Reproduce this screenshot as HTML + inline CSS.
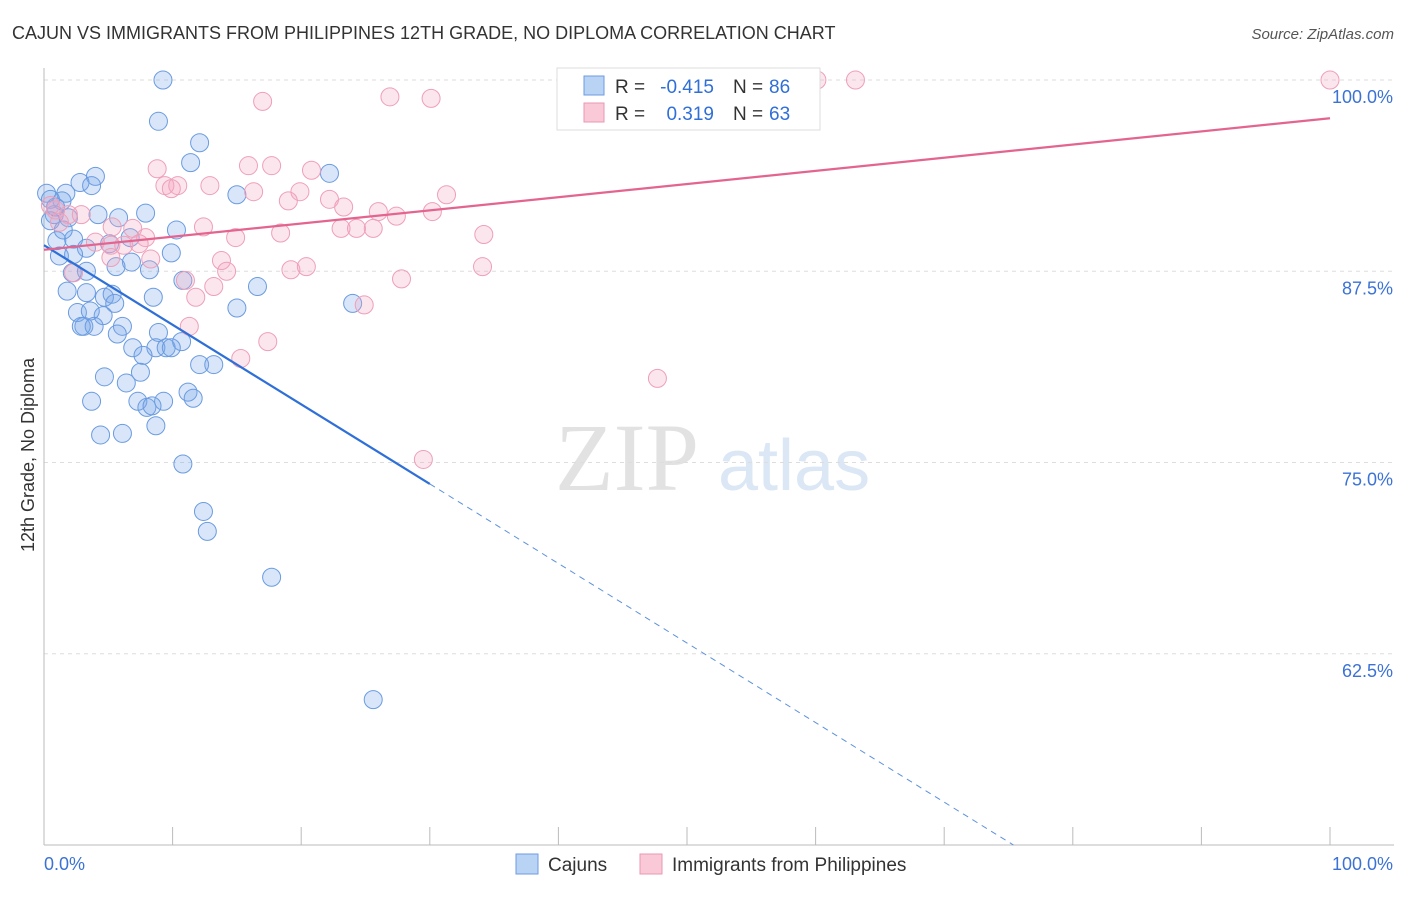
<!DOCTYPE html>
<html><head><meta charset="utf-8"><style>
body{margin:0;background:#fff;font-family:"Liberation Sans",sans-serif;}
</style></head><body>
<svg id="chart" width="1406" height="892" xmlns="http://www.w3.org/2000/svg" font-family="Liberation Sans, sans-serif">
<text x="12" y="39" font-size="18" fill="#333">CAJUN VS IMMIGRANTS FROM PHILIPPINES 12TH GRADE, NO DIPLOMA CORRELATION CHART</text>
<text x="1394" y="39" font-size="15" fill="#555" text-anchor="end" font-style="italic">Source: ZipAtlas.com</text>
<text x="555" y="490" font-size="96" fill="#e2e2e2" font-family="Liberation Serif, serif">ZIP</text>
<text x="718" y="490" font-size="72" fill="#dbe7f5">atlas</text>
<g id="grid"></g><g id="axes"></g><g id="pts"></g><g id="lines"></g>
<text transform="translate(34,455) rotate(-90)" font-size="18" fill="#333" text-anchor="middle">12th Grade, No Diploma</text>
<g>
<rect x="557" y="68" width="263" height="62" fill="#fff" stroke="#ddd"/>
<rect x="584" y="76" width="20" height="19" fill="#b9d3f5" stroke="#6d9be0"/>
<rect x="584" y="103" width="20" height="19" fill="#f9c9d8" stroke="#ea98b3"/>
<text x="615" y="93" font-size="19" fill="#333">R =</text>
<text x="714" y="93" font-size="19" fill="#2f6fd6" text-anchor="end">-0.415</text>
<text x="733" y="93" font-size="19" fill="#333">N =</text>
<text x="769" y="93" font-size="19" fill="#2f6fd6">86</text>
<text x="615" y="120" font-size="19" fill="#333">R =</text>
<text x="714" y="120" font-size="19" fill="#2f6fd6" text-anchor="end">0.319</text>
<text x="733" y="120" font-size="19" fill="#333">N =</text>
<text x="769" y="120" font-size="19" fill="#2f6fd6">63</text>
</g>
<g>
<rect x="516" y="854" width="22" height="20" fill="#b9d3f5" stroke="#6d9be0"/>
<text x="548" y="871" font-size="19" fill="#333">Cajuns</text>
<rect x="640" y="854" width="22" height="20" fill="#f9c9d8" stroke="#ea98b3"/>
<text x="672" y="871" font-size="19" fill="#333">Immigrants from Philippines</text>
</g>
</svg>
<script>
const blueX=[9.25,8.9,12.1,11.4,22.2,4.0,2.8,3.7,0.2,1.7,1.4,15.0,7.9,4.2,5.8,0.8,0.5,1.9,10.3,6.7,5.1,1.0,2.3,3.3,1.2,2.3,9.9,6.8,5.6,8.2,2.2,3.3,16.6,10.8,1.8,3.3,4.7,5.3,5.5,8.5,15.0,24.0,2.6,4.6,3.6,3.1,2.9,3.9,6.1,5.7,8.9,6.9,8.7,9.5,10.7,7.7,9.9,12.1,13.2,7.5,4.7,6.4,11.2,11.6,3.7,7.3,9.3,8.0,8.4,8.7,4.4,6.1,10.8,12.4,12.7,17.7,25.6,0.5,0.9,1.5];
const blueY=[100,97.3,95.9,94.6,93.9,93.7,93.3,93.1,92.6,92.6,92.1,92.5,91.3,91.2,91.0,91.2,90.8,91.0,90.2,89.7,89.3,89.5,89.6,89.0,88.5,88.6,88.7,88.1,87.8,87.6,87.4,87.5,86.5,86.9,86.2,86.1,85.8,86.0,85.4,85.8,85.1,85.4,84.8,84.6,84.9,83.9,83.9,83.9,83.9,83.4,83.5,82.5,82.5,82.5,82.9,82.0,82.5,81.4,81.4,80.9,80.6,80.2,79.6,79.2,79.0,79.0,79.0,78.6,78.7,77.4,76.8,76.9,74.9,71.8,70.5,67.5,59.5,92.2,91.7,90.2];
const pinkX=[100,63.1,60.1,17.0,26.9,30.1,8.8,15.9,17.7,20.8,9.4,10.4,9.9,12.9,16.3,19.9,31.3,19.0,22.2,23.3,26.0,27.4,30.2,12.4,14.9,18.4,23.1,24.3,25.6,34.2,1.9,2.9,0.9,5.3,6.9,7.9,4.0,5.2,6.2,7.4,8.3,13.8,14.2,5.2,19.2,20.4,27.8,34.1,11.0,13.2,11.8,24.9,11.3,15.3,17.4,47.7,29.5,0.5,1.2,2.3];
const pinkY=[100,100,100,98.6,98.9,98.8,94.2,94.4,94.4,94.1,93.1,93.1,92.9,93.1,92.7,92.7,92.5,92.1,92.2,91.7,91.4,91.1,91.4,90.4,89.7,90.0,90.3,90.3,90.3,89.9,91.2,91.2,91.5,90.4,90.3,89.7,89.4,89.2,89.2,89.3,88.3,88.2,87.5,88.4,87.6,87.8,87.0,87.8,86.9,86.5,85.8,85.3,83.9,81.8,82.9,80.5,75.2,91.8,90.7,87.4];
const yTicks=[100,87.5,75,62.5];
const yTickLabels=["100.0%","87.5%","75.0%","62.5%"];
const xTicks=[0,10,20,30,40,50,60,70,80,90,100];
const blueFit=[89.2,-0.52];
const pinkFit=[88.9,0.086];
const NS="http://www.w3.org/2000/svg";
const sx=v=>44+v*12.86, sy=v=>80+(100-v)*15.3;
function mk(tag,attrs,parent){const e=document.createElementNS(NS,tag);for(const k in attrs)e.setAttribute(k,attrs[k]);document.getElementById(parent).appendChild(e);return e;}
yTicks.forEach((t,i)=>{
 const l=mk('line',{x1:44,x2:1394,y1:sy(t),y2:sy(t),stroke:'#ddd','stroke-dasharray':'4,4'},'grid');
 
 
 const tx=mk('text',{x:1393,y:sy(t)+23,'font-size':18,fill:'#3b72d4','text-anchor':'end'},'grid');
 tx.textContent=yTickLabels[i];
 
 
});
const ax=mk('line',{x1:44,x2:1394,y1:845,y2:845,stroke:'#bbb'},'axes');


const ay=mk('line',{x1:44,x2:44,y1:68,y2:845,stroke:'#bbb'},'axes');


xTicks.forEach(t=>{const l=mk('line',{x1:sx(t),x2:sx(t),y1:827,y2:845,stroke:'#bbb'},'axes');
 
 });
const x0=mk('text',{x:44,y:870,'font-size':18,fill:'#3b72d4'},'axes');x0.textContent='0.0%';


const x1=mk('text',{x:1393,y:870,'font-size':18,fill:'#3b72d4','text-anchor':'end'},'axes');x1.textContent='100.0%';


blueX.forEach((v,i)=>{const c=mk('circle',{cx:sx(v),cy:sy(blueY[i]),r:9,fill:'rgba(120,165,235,0.28)',stroke:'#6a9be0','stroke-width':1},'pts');
 
 });
pinkX.forEach((v,i)=>{const c=mk('circle',{cx:sx(v),cy:sy(pinkY[i]),r:9,fill:'rgba(245,165,195,0.28)',stroke:'#ee9fb9','stroke-width':1},'pts');
 
 });
const bf=x=>blueFit[0]+blueFit[1]*x, pf=x=>pinkFit[0]+pinkFit[1]*x;
const bl=mk('line',{x1:sx(0),y1:sy(bf(0)),x2:sx(30),y2:sy(bf(30)),stroke:'#2e6fd8','stroke-width':2.2},'lines');


const xe=(50-blueFit[0])/blueFit[1];
const bd=mk('line',{x1:sx(30),y1:sy(bf(30)),x2:sx(xe),y2:sy(bf(xe)),stroke:'#5d91dc','stroke-width':1,'stroke-dasharray':'6,5'},'lines');


const pl=mk('line',{x1:sx(0),y1:sy(pf(0)),x2:sx(100),y2:sy(pf(100)),stroke:'#e46490','stroke-width':2.2},'lines');


</script>
</body></html>
